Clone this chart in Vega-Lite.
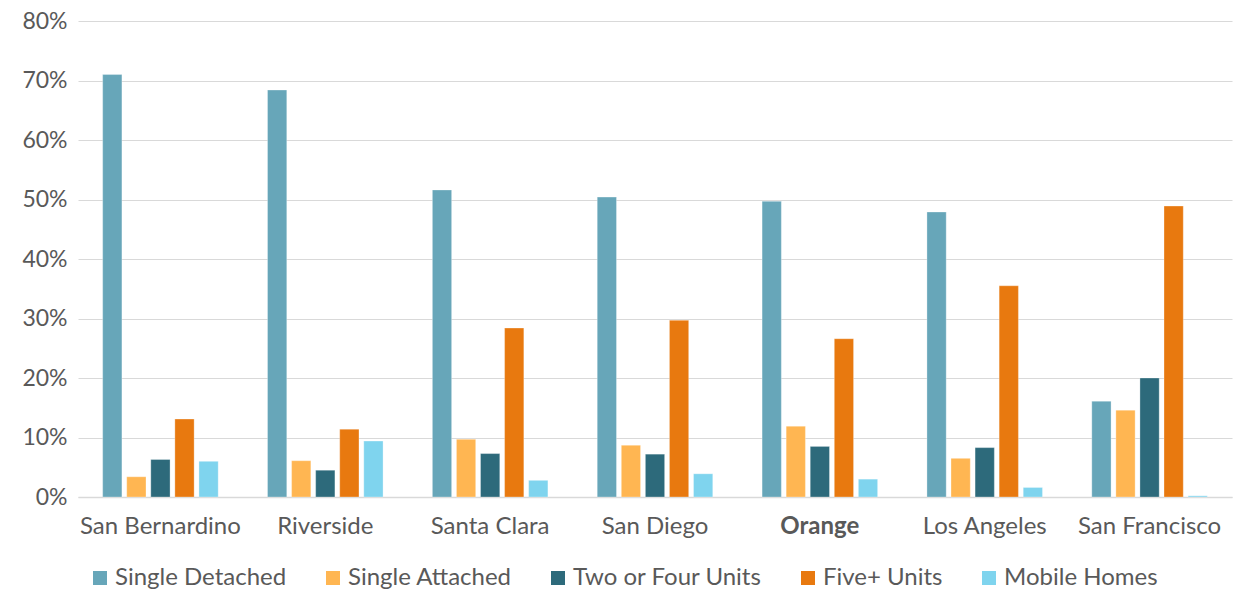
{
  "$schema": "https://vega.github.io/schema/vega-lite/v6.json",
  "width": 1154,
  "height": 476,
  "autosize": "none",
  "padding": {"left": 78, "top": 21, "right": 4, "bottom": 95},
  "background": "white",
  "config": {
    "font": "Lato",
    "view": {"stroke": null},
    "axis": {"labelFont": "Lato", "labelColor": "#595959", "labelFontSize": 23}
  },
  "data": {
    "values": [
      {"county": "San Bernardino", "type": "Single Detached", "value": 71.0},
      {"county": "San Bernardino", "type": "Single Attached", "value": 3.4},
      {"county": "San Bernardino", "type": "Two or Four Units", "value": 6.3},
      {"county": "San Bernardino", "type": "Five+ Units", "value": 13.1},
      {"county": "San Bernardino", "type": "Mobile Homes", "value": 6.0},
      {"county": "Riverside", "type": "Single Detached", "value": 68.4},
      {"county": "Riverside", "type": "Single Attached", "value": 6.1},
      {"county": "Riverside", "type": "Two or Four Units", "value": 4.5},
      {"county": "Riverside", "type": "Five+ Units", "value": 11.4},
      {"county": "Riverside", "type": "Mobile Homes", "value": 9.4},
      {"county": "Santa Clara", "type": "Single Detached", "value": 51.6},
      {"county": "Santa Clara", "type": "Single Attached", "value": 9.7},
      {"county": "Santa Clara", "type": "Two or Four Units", "value": 7.3},
      {"county": "Santa Clara", "type": "Five+ Units", "value": 28.4},
      {"county": "Santa Clara", "type": "Mobile Homes", "value": 2.8},
      {"county": "San Diego", "type": "Single Detached", "value": 50.4},
      {"county": "San Diego", "type": "Single Attached", "value": 8.7},
      {"county": "San Diego", "type": "Two or Four Units", "value": 7.2},
      {"county": "San Diego", "type": "Five+ Units", "value": 29.7},
      {"county": "San Diego", "type": "Mobile Homes", "value": 3.9},
      {"county": "Orange", "type": "Single Detached", "value": 49.7},
      {"county": "Orange", "type": "Single Attached", "value": 11.9},
      {"county": "Orange", "type": "Two or Four Units", "value": 8.5},
      {"county": "Orange", "type": "Five+ Units", "value": 26.6},
      {"county": "Orange", "type": "Mobile Homes", "value": 3.0},
      {"county": "Los Angeles", "type": "Single Detached", "value": 47.9},
      {"county": "Los Angeles", "type": "Single Attached", "value": 6.5},
      {"county": "Los Angeles", "type": "Two or Four Units", "value": 8.3},
      {"county": "Los Angeles", "type": "Five+ Units", "value": 35.5},
      {"county": "Los Angeles", "type": "Mobile Homes", "value": 1.6},
      {"county": "San Francisco", "type": "Single Detached", "value": 16.1},
      {"county": "San Francisco", "type": "Single Attached", "value": 14.6},
      {"county": "San Francisco", "type": "Two or Four Units", "value": 20.0},
      {"county": "San Francisco", "type": "Five+ Units", "value": 48.9},
      {"county": "San Francisco", "type": "Mobile Homes", "value": 0.2}
    ]
  },
  "mark": {"type": "bar", "stroke": "white", "strokeWidth": 0.6, "strokeOpacity": 0.5},
  "encoding": {
    "x": {
      "field": "county",
      "type": "nominal",
      "sort": ["San Bernardino", "Riverside", "Santa Clara", "San Diego", "Orange", "Los Angeles", "San Francisco"],
      "scale": {"paddingInner": 0.27, "paddingOuter": 0.135},
      "axis": {
        "title": null,
        "labelAngle": 0,
        "labelPadding": 17,
        "labelFontSize": 24,
        "ticks": false,
        "domainColor": "#d9d9d9",
        "domainWidth": 1.5,
        "labelFontWeight": {"condition": {"test": "datum.value == 'Orange'", "value": "bold"}, "value": "normal"}
      }
    },
    "xOffset": {
      "field": "type",
      "type": "nominal",
      "sort": ["Single Detached", "Single Attached", "Two or Four Units", "Five+ Units", "Mobile Homes"],
      "scale": {"paddingInner": 0.2, "paddingOuter": 0.1}
    },
    "y": {
      "field": "value",
      "type": "quantitative",
      "scale": {"domain": [0, 80], "nice": false},
      "axis": {
        "title": null,
        "values": [0, 10, 20, 30, 40, 50, 60, 70, 80],
        "labelExpr": "datum.value + '%'",
        "ticks": false,
        "domain": false,
        "gridColor": "#d9d9d9",
        "gridWidth": 1,
        "labelPadding": 11
      }
    },
    "color": {
      "field": "type",
      "type": "nominal",
      "sort": ["Single Detached", "Single Attached", "Two or Four Units", "Five+ Units", "Mobile Homes"],
      "scale": {
        "domain": ["Single Detached", "Single Attached", "Two or Four Units", "Five+ Units", "Mobile Homes"],
        "range": ["#67A6B9", "#FFB652", "#2D6A7B", "#E8790F", "#7FD4EE"]
      },
      "legend": {
        "title": null,
        "orient": "none",
        "direction": "horizontal",
        "legendX": 10,
        "legendY": 545,
        "padding": 0,
        "symbolType": "square",
        "symbolSize": 196,
        "symbolStrokeWidth": 0,
        "labelFontSize": 24,
        "labelColor": "#595959",
        "labelFont": "Lato",
        "labelOffset": 3,
        "columnPadding": 34,
        "labelLimit": 400
      }
    }
  }
}
